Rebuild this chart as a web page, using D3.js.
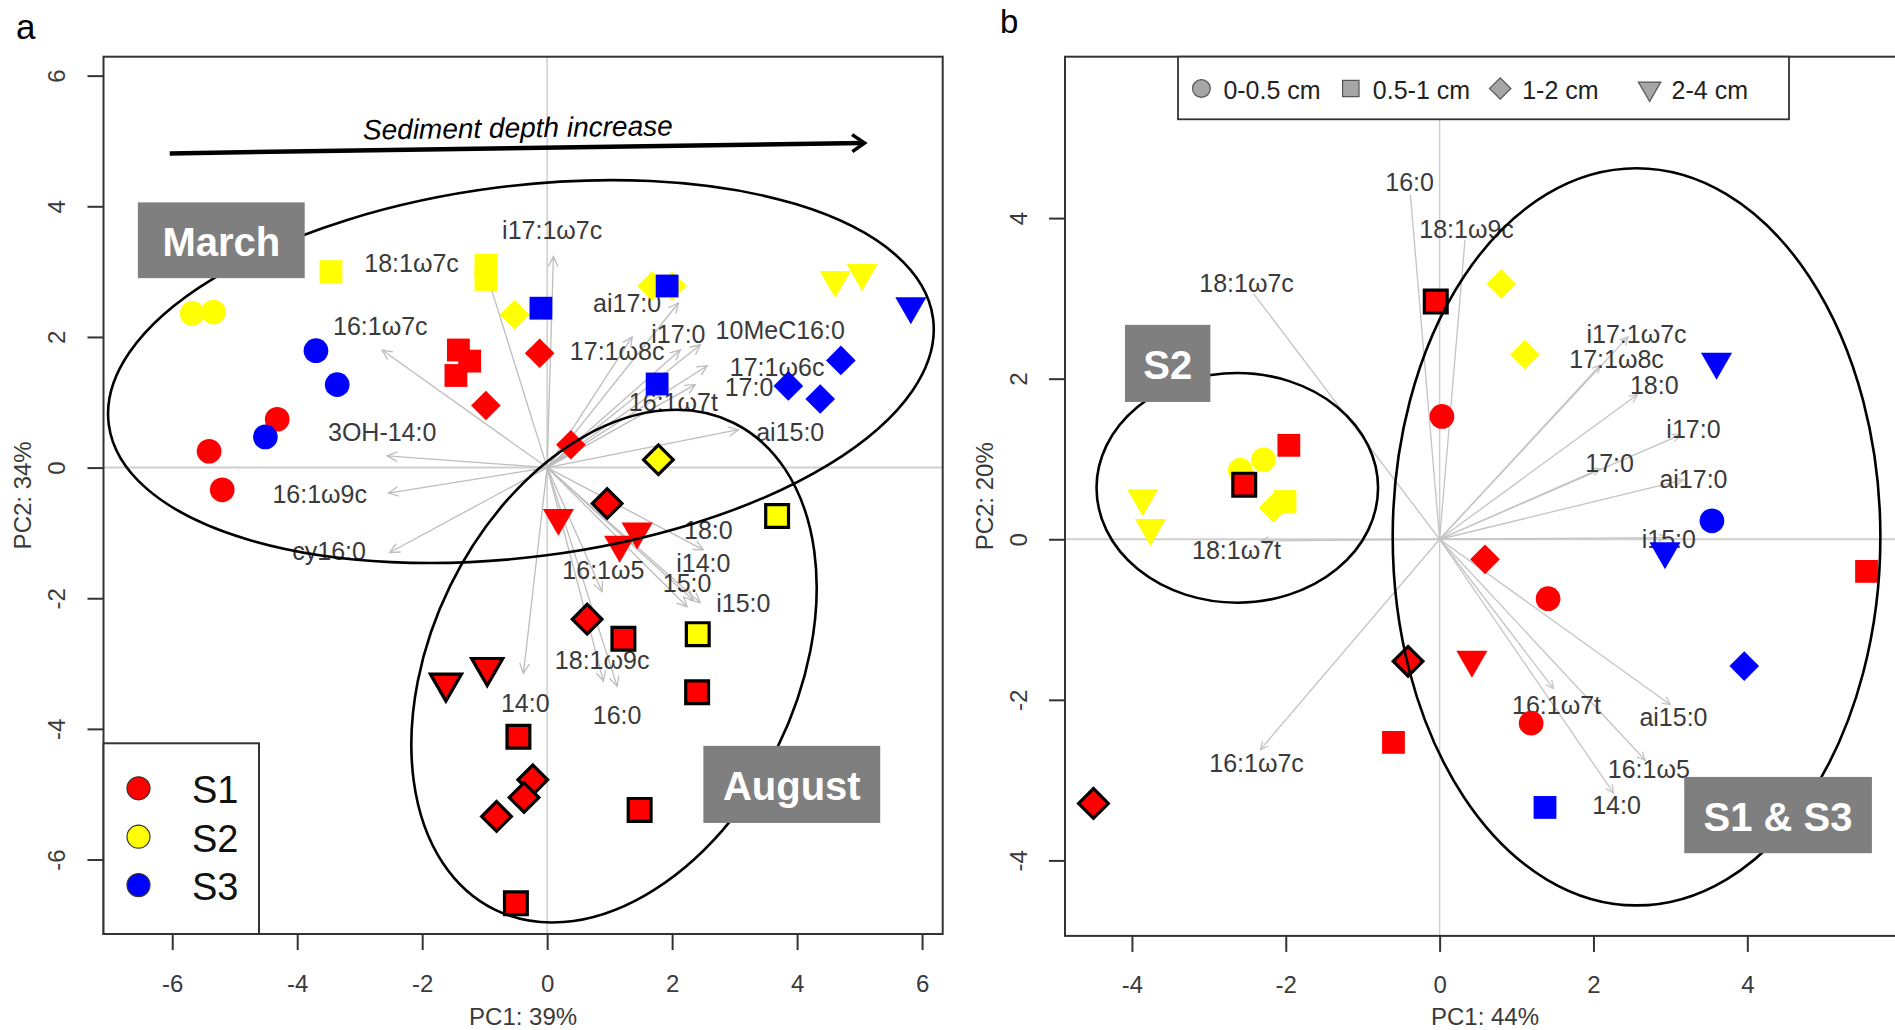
<!DOCTYPE html>
<html><head><meta charset="utf-8">
<script src="https://cdn.jsdelivr.net/npm/d3@7"></script>
<style>body{margin:0;background:#fff;} text{font-family:"Liberation Sans",Arial,sans-serif;}</style>
</head><body><svg id="c" width="1895" height="1030"></svg>
<script>
// ---------- DATA: panel a (PCA of March + August samples) ----------
const aPC1  = [-3.46,-0.98,-0.98,-5.68,-5.34,-3.70,-3.36,-4.32,-4.51,-5.41,-5.20,-1.42,-1.24,-1.46,-0.98,-0.12,-0.52,-0.10,1.68,2.00,1.92,0.38,1.76,4.61,5.04,5.82,4.70,3.86,4.37,1.78,0.96,0.18,1.44,1.16,3.68,0.64,1.22,2.41,2.40,-1.62,-0.96,-0.46,-0.23,-0.37,-0.81,1.48,-0.50];
const aPC2  = [3.00,3.10,2.88,2.36,2.38,1.79,1.27,0.74,0.47,0.25,-0.34,1.80,1.63,1.41,0.95,1.75,2.34,2.44,2.78,2.78,2.78,0.35,1.28,2.87,2.98,2.47,1.64,1.25,1.05,0.12,-0.55,-0.77,-0.98,-1.18,-0.74,-2.32,-2.62,-2.55,-3.44,-3.30,-3.06,-4.12,-4.78,-5.05,-5.34,-5.24,-6.67];
const aSite = ["S2","S2","S2","S2","S2","S3","S3","S1","S3","S1","S1","S1","S1","S1","S1","S1","S2","S3","S2","S2","S3","S1","S3","S2","S2","S3","S3","S3","S3","S2","S1","S1","S1","S1","S2","S1","S1","S2","S1","S1","S1","S1","S1","S1","S1","S1","S1"];
const aDepth = [1,1,1,0,0,0,0,0,0,0,0,1,1,1,2,2,2,1,2,2,1,2,1,3,3,3,2,2,2,2,2,3,3,3,1,2,1,1,1,3,3,1,2,2,2,1,1];
const aAugust = [0,0,0,0,0,0,0,0,0,0,0,0,0,0,0,0,0,0,0,0,0,0,0,0,0,0,0,0,0,1,1,0,0,0,1,1,1,1,1,1,1,1,1,1,1,1,1];
// loadings (arrow tips) and label anchors, panel a
const aVarNames = ["i17:1ω7c","18:1ω7c","16:1ω7c","3OH-14:0","16:1ω9c","cy16:0","ai17:0","i17:0","17:1ω8c","10MeC16:0","17:1ω6c","17:0","16:1ω7t","ai15:0","14:0","16:0","18:1ω9c","16:1ω5","18:0","i14:0","15:0","i15:0"];
const aVarX   = [0.10,-0.98,-2.64,-2.56,-2.54,-2.52,2.10,2.13,1.36,2.45,2.56,2.37,1.89,3.06,-0.38,1.12,0.90,0.88,2.50,2.34,2.24,2.45];
const aVarY   = [3.23,3.00,1.80,0.18,-0.39,-1.30,2.52,1.80,2.00,1.88,1.56,1.27,1.27,0.58,-3.15,-3.35,-3.27,-1.90,-1.26,-2.03,-2.13,-2.07];
const aLabX   = [0.08,-2.17,-2.67,-2.64,-3.64,-3.49,1.28,2.10,1.12,3.73,3.68,3.23,2.02,3.89,-0.35,1.12,0.88,0.90,2.58,2.50,2.24,3.14];
const aLabY   = [3.64,3.13,2.16,0.55,-0.41,-1.27,2.52,2.05,1.78,2.11,1.54,1.23,1.01,0.55,-3.61,-3.79,-2.94,-1.57,-0.95,-1.46,-1.77,-2.08];

// ---------- DATA: panel b (PCA of August samples) ----------
const bPC1  = [-0.05,0.80,1.11,0.03,-1.96,-2.59,-2.29,-2.54,-2.01,-2.16,-3.86,-3.76,-0.41,-0.60,3.54,2.93,5.55,0.59,1.41,0.42,3.96,1.19,1.37,-4.50,3.60];
const bPC2  = [2.96,3.18,2.30,1.53,1.17,0.86,0.99,0.68,0.47,0.39,0.51,0.14,-1.52,-2.53,0.23,-0.15,-0.40,-0.25,-0.74,-1.50,-1.58,-2.29,-3.34,-3.29,2.21];
const bSite = ["S1","S2","S2","S1","S1","S2","S2","S1","S2","S2","S2","S2","S1","S1","S3","S3","S1","S1","S1","S1","S3","S1","S3","S1","S3"];
const bDepth = [1,2,2,0,1,0,0,1,1,2,3,3,2,1,0,3,1,2,0,3,2,0,1,2,3];
const bBorder = [1,0,0,0,0,0,0,1,0,0,0,0,1,0,0,0,0,0,0,0,0,0,0,1,0];
const bVarNames = ["16:0","18:1ω9c","18:1ω7c","i17:1ω7c","17:1ω8c","18:0","i17:0","17:0","ai17:0","i15:0","18:1ω7t","16:1ω7c","16:1ω7t","ai15:0","16:1ω5","14:0"];
const bVarX = [-0.38,0.33,-2.42,2.45,2.09,2.57,3.13,2.09,3.17,2.95,-2.33,-2.33,1.48,3.00,2.67,2.26];
const bVarY = [4.29,3.73,3.06,2.52,2.17,1.80,1.30,0.88,0.74,0.02,-0.02,-2.62,-1.86,-2.06,-2.75,-3.16];
const bLabX = [-0.39,0.35,-2.51,2.56,2.30,2.79,3.30,2.21,3.30,2.98,-2.64,-2.38,1.52,3.04,2.72,2.30];
const bLabY = [4.45,3.87,3.19,2.56,2.24,1.92,1.37,0.95,0.75,0.00,-0.14,-2.79,-2.06,-2.21,-2.86,-3.31];
const bHead = [0,0,0,1,1,1,1,1,1,1,1,1,1,1,1,1];

// ticks
const aXTicks = [-6,-4,-2,0,2,4,6];
const aYTicks = [-6,-4,-2,0,2,4,6];
const bXTicks = [-4,-2,0,2,4];
const bYTicks = [-4,-2,0,2,4];
const siteNames = ["S1","S2","S3"];
const depthNames = ["0-0.5 cm","0.5-1 cm","1-2 cm","2-4 cm"];

// ---------- drawing ----------
const svg = d3.select("#c");
svg.append("rect").attr("width",1895).attr("height",1030).attr("fill","#fff");
const siteColor = {S1:"#ff0000",S2:"#ffff00",S3:"#0000ff"};
const TXT = "#3a3a3a";

function sym(depth, k){
  k = k||1;
  if(depth===0) return {d:d3.symbol(d3.symbolCircle,480*k*k)(), r:0};
  if(depth===1) return {d:d3.symbol(d3.symbolSquare,520*k*k)(), r:0};
  if(depth===2) return {d:d3.symbol(d3.symbolSquare,440*k*k)(), r:45};
  return {d:d3.symbol(d3.symbolTriangle,420*k*k)(), r:180};
}

function panel(cfg){
  const x = d3.scaleLinear().domain(cfg.xd).range([cfg.L,cfg.R]);
  const y = d3.scaleLinear().domain(cfg.yd).range([cfg.B,cfg.T]);
  const g = svg.append("g");
  const clipId = "clip"+cfg.id;
  svg.append("clipPath").attr("id",clipId).append("rect")
     .attr("x",cfg.L).attr("y",cfg.T).attr("width",Math.min(cfg.R,1895)-cfg.L).attr("height",cfg.B-cfg.T);
  const inner = g.append("g").attr("clip-path",`url(#${clipId})`);
  // zero lines
  inner.append("line").attr("x1",x(0)).attr("x2",x(0)).attr("y1",cfg.T).attr("y2",cfg.B).attr("stroke","#cfcfcf").attr("stroke-width",1.5);
  inner.append("line").attr("x1",cfg.L).attr("x2",cfg.R).attr("y1",y(0)).attr("y2",y(0)).attr("stroke","#cfcfcf").attr("stroke-width",2);
  // loading arrows
  const ah = inner.append("g").attr("stroke",cfg.arrowColor).attr("stroke-width",1.3).attr("fill","none");
  cfg.vx.forEach((vx,i)=>{
    const x0=x(0), y0=y(0), x1=x(vx), y1=y(cfg.vy[i]);
    ah.append("line").attr("x1",x0).attr("y1",y0).attr("x2",x1).attr("y2",y1);
    if(cfg.heads && !cfg.heads[i]) return;
    const ang=Math.atan2(y1-y0,x1-x0), L=cfg.headLen, a=0.45;
    ah.append("path").attr("d",`M${x1-L*Math.cos(ang-a)},${y1-L*Math.sin(ang-a)}L${x1},${y1}L${x1-L*Math.cos(ang+a)},${y1-L*Math.sin(ang+a)}`);
  });
  inner.append("g").selectAll("text").data(cfg.names).join("text")
    .attr("x",(d,i)=>x(cfg.lx[i])).attr("y",(d,i)=>y(cfg.ly[i]))
    .attr("text-anchor","middle").attr("dominant-baseline","central")
    .attr("font-size",25).attr("fill",TXT).text(d=>d);
  // points
  inner.append("g").selectAll("path").data(cfg.px).join("path")
    .attr("d",(d,i)=>sym(cfg.depth[i]).d)
    .attr("transform",(d,i)=>`translate(${x(d)},${y(cfg.py[i])}) rotate(${sym(cfg.depth[i]).r})`)
    .attr("fill",(d,i)=>siteColor[cfg.site[i]])
    .attr("stroke",(d,i)=>cfg.border[i]?"#000":"none")
    .attr("stroke-width",3.2).attr("stroke-linejoin","miter");
  // box
  g.append("rect").attr("x",cfg.L).attr("y",cfg.T).attr("width",cfg.R-cfg.L).attr("height",cfg.B-cfg.T)
    .attr("fill","none").attr("stroke","#333").attr("stroke-width",2);
  // axes
  const ax = g.append("g").attr("transform",`translate(0,${cfg.B})`)
    .call(d3.axisBottom(x).tickValues(cfg.xt).tickSize(16).tickSizeOuter(0).tickFormat(d=>String(d)));
  ax.select(".domain").remove();
  ax.selectAll("line").attr("stroke","#333").attr("stroke-width",2);
  ax.selectAll("text").attr("y",49).attr("dy",null).attr("dominant-baseline","central")
    .attr("font-size",24).attr("fill",TXT).attr("font-family","Liberation Sans, Arial, sans-serif");
  const ay = g.append("g").attr("transform",`translate(${cfg.L},0)`)
    .call(d3.axisLeft(y).tickValues(cfg.yt).tickSize(16).tickSizeOuter(0).tickFormat(d=>String(d)));
  ay.select(".domain").remove();
  ay.selectAll("line").attr("stroke","#333").attr("stroke-width",2);
  ay.selectAll("text").attr("x",null).attr("dy",null).attr("transform","translate(-47,0) rotate(-90)")
    .attr("text-anchor","middle").attr("dominant-baseline","central")
    .attr("font-size",24).attr("fill",TXT).attr("font-family","Liberation Sans, Arial, sans-serif");
  // axis titles
  g.append("text").attr("x",(cfg.L+Math.min(cfg.R,1905))/2).attr("y",1016).attr("text-anchor","middle")
    .attr("dominant-baseline","central").attr("font-size",24).attr("fill",TXT).text(cfg.xlab);
  g.append("text").attr("transform",`translate(${cfg.L-81},${(cfg.T+cfg.B)/2}) rotate(-90)`).attr("text-anchor","middle")
    .attr("dominant-baseline","central").attr("font-size",24).attr("fill",TXT).text(cfg.ylab);
  return {x,y,g};
}

// ----- panel a -----
const A = panel({id:"a",L:103.5,R:942.7,T:56.7,B:934,xd:[-7.10,6.33],yd:[-7.14,6.29],
  xt:aXTicks,yt:aYTicks,px:aPC1,py:aPC2,site:aSite,depth:aDepth,border:aAugust,
  vx:aVarX,vy:aVarY,lx:aLabX,ly:aLabY,names:aVarNames,arrowColor:"#bdbdbd",headLen:11,
  xlab:"PC1: 39%",ylab:"PC2: 34%"});
// ----- panel b -----
const B = panel({id:"b",L:1065,R:1905,T:56.7,B:935.9,xd:[-4.87,6.05],yd:[-4.94,6.01],
  xt:bXTicks,yt:bYTicks,px:bPC1,py:bPC2,site:bSite,depth:bDepth,border:bBorder,
  vx:bVarX,vy:bVarY,lx:bLabX,ly:bLabY,names:bVarNames,arrowColor:"#c4c4c4",headLen:9,heads:bHead,
  xlab:"PC1: 44%",ylab:"PC2: 20%"});

// ellipses (data units: centre, semi-axes, rotation)
function ellipse(P, cx, cy, rx, ry, rot){
  const sx = P.x(rx)-P.x(0), sy = P.y(0)-P.y(ry);
  P.g.append("ellipse").attr("cx",0).attr("cy",0).attr("rx",sx).attr("ry",sy)
    .attr("transform",`translate(${P.x(cx)},${P.y(cy)}) rotate(${rot})`)
    .attr("fill","none").attr("stroke","#000").attr("stroke-width",2.6);
}
ellipse(A,-0.42,1.47,6.65,2.84,-7.3);
ellipse(A,1.07,-3.04,2.92,4.15,26.1);
ellipse(B,-2.63,0.64,1.83,1.43,0);
ellipse(B,2.56,0.03,3.17,4.59,0);

// grey annotation boxes
function tag(P, x0, x1, y0, y1, label){
  const gx = P.g.append("g");
  gx.append("rect").attr("x",P.x(x0)).attr("y",P.y(y0)).attr("width",P.x(x1)-P.x(x0)).attr("height",P.y(y1)-P.y(y0)).attr("fill","#7f7f7f");
  gx.append("text").attr("x",(P.x(x0)+P.x(x1))/2).attr("y",(P.y(y0)+P.y(y1))/2+2)
    .attr("text-anchor","middle").attr("dominant-baseline","central")
    .attr("font-family","Lato, 'Open Sans', sans-serif").attr("font-weight",700).attr("font-size",40)
    .attr("fill","#fff").text(label);
}
tag(A,-6.55,-3.88,4.06,2.90,"March");
tag(A,2.50,5.33,-4.26,-5.44,"August");
tag(B,-4.09,-2.98,2.67,1.71,"S2");
tag(B,3.18,5.62,-2.96,-3.91,"S1 & S3");

// sediment depth arrow (panel a)
{
  const x0=A.x(-6.04), y0=A.y(4.81), x1=A.x(5.08), y1=A.y(4.97);
  A.g.append("line").attr("x1",x0).attr("y1",y0).attr("x2",x1-2).attr("y2",y1).attr("stroke","#000").attr("stroke-width",4.5);
  const ang=Math.atan2(y1-y0,x1-x0), L=15, a=0.6;
  A.g.append("path").attr("d",`M${x1-L*Math.cos(ang-a)},${y1-L*Math.sin(ang-a)}L${x1},${y1}L${x1-L*Math.cos(ang+a)},${y1-L*Math.sin(ang+a)}`)
    .attr("fill","none").attr("stroke","#000").attr("stroke-width",3.5);
  A.g.append("text").attr("transform",`translate(${A.x(-0.47)},${A.y(5.20)}) rotate(-0.8)`)
    .attr("text-anchor","middle").attr("dominant-baseline","central")
    .attr("font-family","Lato, 'Open Sans', sans-serif").attr("font-style","italic").attr("font-size",28)
    .attr("fill","#000").text("Sediment depth increase");
}

// legend a (sites)
{
  const lg = A.g.append("g");
  lg.append("rect").attr("x",103.5).attr("y",743.3).attr("width",155.5).attr("height",934-743.3)
    .attr("fill","#fff").attr("stroke","#333").attr("stroke-width",2);
  siteNames.forEach((s,i)=>{
    const cy = 788.3 + i*48.4;
    lg.append("circle").attr("cx",138.5).attr("cy",cy).attr("r",11.5).attr("fill",siteColor[s]).attr("stroke","#333").attr("stroke-width",1.2);
    lg.append("text").attr("x",192).attr("y",cy+2).attr("dominant-baseline","central").attr("font-size",38).attr("fill","#111").text(s);
  });
}
// legend b (depths)
{
  const lg = B.g.append("g");
  lg.append("rect").attr("x",1178).attr("y",56.7).attr("width",611).attr("height",62.6)
    .attr("fill","#fff").attr("stroke","#333").attr("stroke-width",1.8);
  depthNames.forEach((s,i)=>{
    const mx = 1201.4 + i*149.4, my = 88.5;
    const sy = sym(i,0.72);
    lg.append("path").attr("d",sy.d).attr("transform",`translate(${mx},${my}) rotate(${sy.r})`)
      .attr("fill","#a6a6a6").attr("stroke","#555").attr("stroke-width",1.2);
    lg.append("text").attr("x",mx+22).attr("y",my+1).attr("dominant-baseline","central").attr("font-size",25).attr("fill","#222").text(s);
  });
}

// panel letters
svg.append("text").attr("x",16).attr("y",39).attr("font-family","'Open Sans', sans-serif").attr("font-size",35).attr("fill","#000").text("a");
svg.append("text").attr("x",1000).attr("y",33).attr("font-family","'Open Sans', sans-serif").attr("font-size",33).attr("fill","#000").text("b");
</script></body></html>
